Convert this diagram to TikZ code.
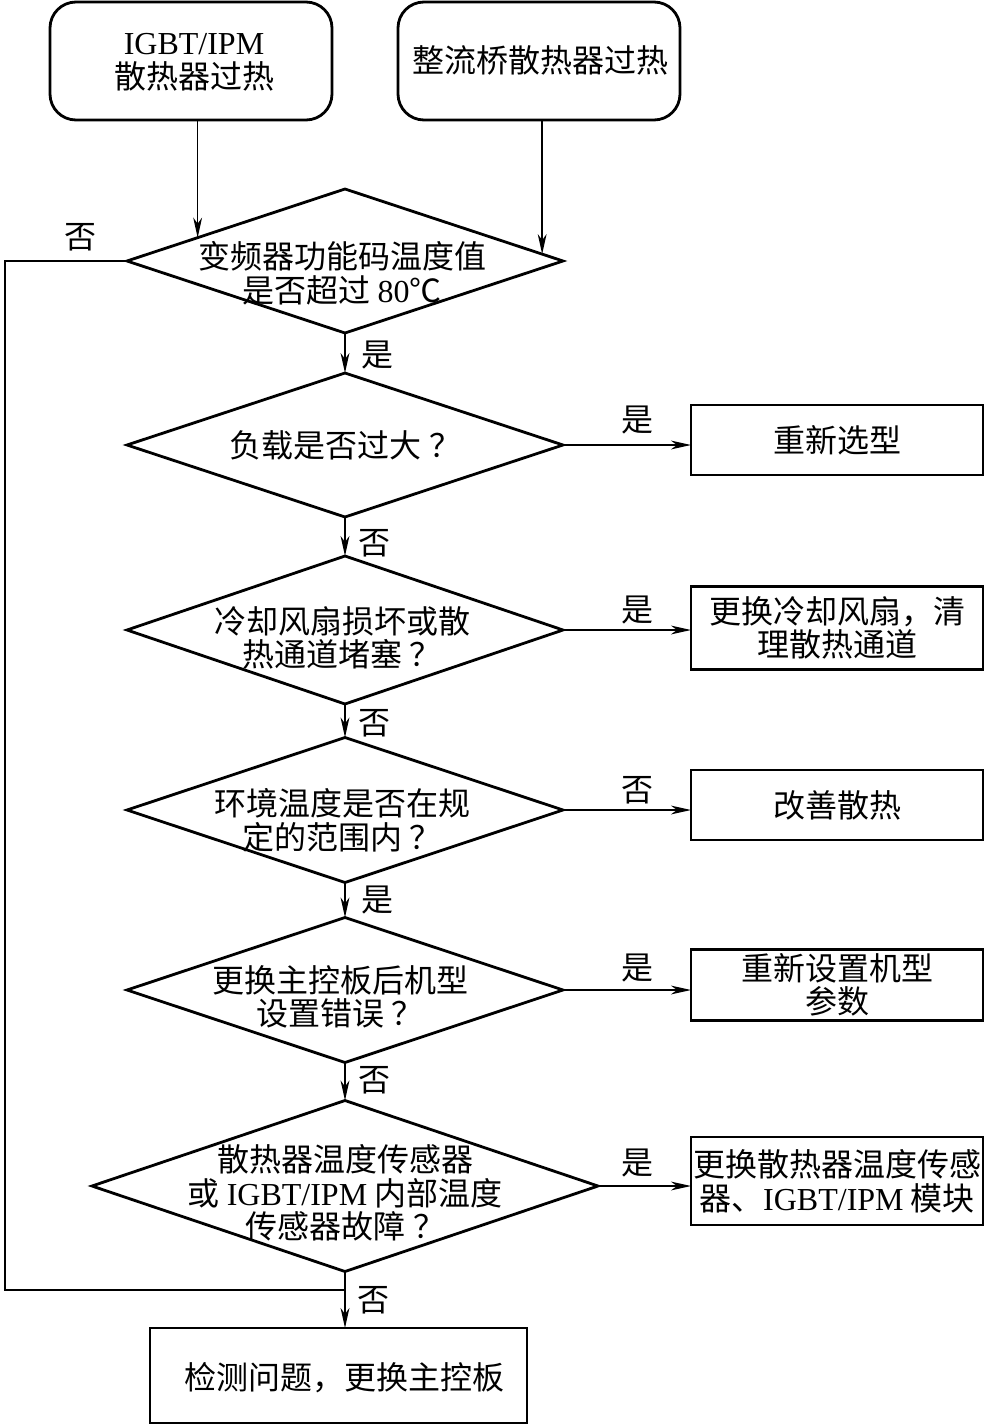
\documentclass[tikz,border=0pt]{standalone}
\usepackage{fontspec}
\setmainfont{Liberation Serif}
\newfontfamily\cjk{Noto Sans CJK SC}
\usetikzlibrary{shapes.geometric,arrows.meta}
\newcommand\lat[1]{{\rmfamily #1}}
\newcommand\qm{\hspace{0.25em}？}
\tikzset{
  txt/.style={font=\cjk\fontsize{16}{16.8}\selectfont, align=center, inner sep=0pt},
  rbox/.style={draw, rectangle, line width=1.4pt, inner sep=1pt, outer sep=0pt, align=center, font=\cjk\fontsize{16}{16.8}\selectfont},
  tbox/.style={rbox, rounded corners=13pt},
  dia/.style={draw, diamond, line width=1.4pt, inner sep=0pt, outer sep=0pt},
  conn/.style={line width=0.75pt},
  arr/.style={line width=0.75pt, -{Stealth[length=10pt,width=4.4pt,inset=3pt]}}
}
\begin{document}
\begin{tikzpicture}[x=0.5pt,y=-0.5pt]
\useasboundingbox (0,0) rectangle (985,1424);
% top boxes
\node[tbox, minimum width=141pt, minimum height=59pt] (b1) at (191,61) {};
\node[txt] (t1) at (194,62) {\lat{IGBT/IPM}\\散热器过热};
\node[tbox, minimum width=141pt, minimum height=59pt] (b2) at (539,61) {};
\node[txt] (t2) at (540,60) {整流桥散热器过热};
% diamonds
\node[dia, minimum width=218pt, minimum height=72pt] (d1) at (345,261) {};
\node[txt] (td1) at (342,273) {变频器功能码温度值\\是否超过 \lat{80}℃};
\node[dia, minimum width=218pt, minimum height=72pt] (d2) at (345,445) {};
\node[txt] (td2) at (345,445) {负载是否过大\qm};
\node[dia, minimum width=218pt, minimum height=74pt] (d3) at (345,630) {};
\node[txt] (td3) at (342,638) {冷却风扇损坏或散\\热通道堵塞\qm};
\node[dia, minimum width=218pt, minimum height=72.5pt] (d4) at (345,810) {};
\node[txt] (td4) at (342,820) {环境温度是否在规\\定的范围内\qm};
\node[dia, minimum width=218pt, minimum height=72.5pt] (d5) at (345,990) {};
\node[txt] (td5) at (340,997) {更换主控板后机型\\设置错误\qm};
\node[dia, minimum width=253pt, minimum height=85.5pt] (d6) at (345,1186) {};
\node[txt] (td6) at (345,1193) {散热器温度传感器\\或 \lat{IGBT/IPM} 内部温度\\传感器故障\qm};
% right boxes
\node[rbox, minimum width=146pt, minimum height=35pt] (r2) at (837,440) {重新选型};
\node[rbox, minimum width=146pt, minimum height=41.5pt] (r3) at (837,628) {更换冷却风扇，清\\理散热通道};
\node[rbox, minimum width=146pt, minimum height=35pt] (r4) at (837,805) {改善散热};
\node[rbox, minimum width=146pt, minimum height=35.5pt] (r5) at (837,985) {重新设置机型\\参数};
\node[rbox, inner sep=0pt, minimum width=146pt, minimum height=44pt] (r6) at (837,1181) {更换散热器温度传感\\器、\lat{IGBT/IPM} 模块};
% bottom box
\node[rbox, minimum width=188.5pt, minimum height=47.5pt] (bot) at (338.5,1375.5) {};
\node[txt] (tb) at (344,1378) {检测问题，更换主控板};
% connectors
\draw[arr] (b1.south -| d1.171.5) -- (d1.171.5);
\draw[arr] (b2.south -| d1.2.8) -- (d1.2.8);
\draw[arr] (d1.south) -- (d2.north);
\draw[arr] (d2.south) -- (d3.north);
\draw[arr] (d3.south) -- (d4.north);
\draw[arr] (d4.south) -- (d5.north);
\draw[arr] (d5.south) -- (d6.north);
\draw[arr] (d6.south) -- (d6.south |- bot.north);
\draw[arr] (d2.east) -- (d2.east -| r2.west);
\draw[arr] (d3.east) -- (d3.east -| r3.west);
\draw[arr] (d4.east) -- (d4.east -| r4.west);
\draw[arr] (d5.east) -- (d5.east -| r5.west);
\draw[arr] (d6.east) -- (d6.east -| r6.west);
\coordinate (L) at (5,1290);
\draw[conn] (d1.west) -| (L) -- (L -| d6.south);
% labels
\node[txt] (l0) at (80,237) {否};
\node[txt] (l1) at (377,355) {是};
\node[txt] (l2) at (374,543) {否};
\node[txt] (l3) at (374,723) {否};
\node[txt] (l4) at (377,900) {是};
\node[txt] (l5) at (374,1080) {否};
\node[txt] (l6) at (373,1300) {否};
\node[txt] (m2) at (637,420) {是};
\node[txt] (m3) at (637,610) {是};
\node[txt] (m4) at (637,790) {否};
\node[txt] (m5) at (637,968) {是};
\node[txt] (m6) at (637,1163) {是};
\end{tikzpicture}
\end{document}
